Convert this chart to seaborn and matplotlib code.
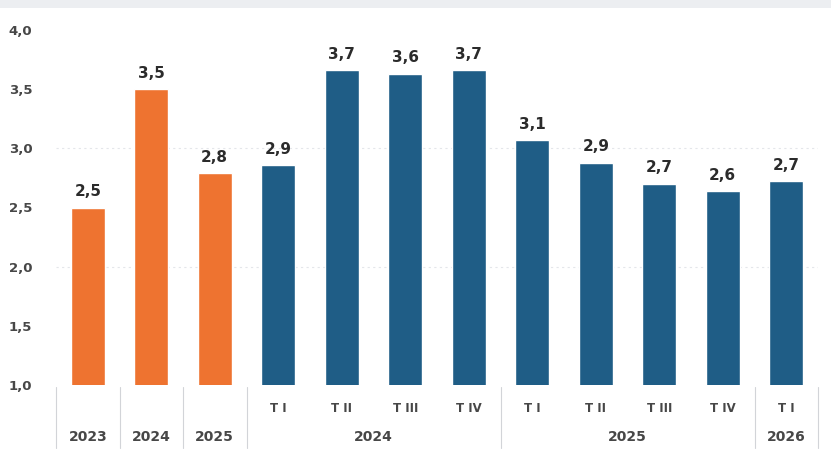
import matplotlib
matplotlib.use("Agg")
import matplotlib.pyplot as plt
from matplotlib.patches import Rectangle
import seaborn as sns
import pandas as pd

# Annual averages followed by quarterly figures
bar_keys = ["2023", "2024", "2025",
            "2024 T I", "2024 T II", "2024 T III", "2024 T IV",
            "2025 T I", "2025 T II", "2025 T III", "2025 T IV",
            "2026 T I"]
quarter_labels = ["", "", "", "T I", "T II", "T III", "T IV",
                  "T I", "T II", "T III", "T IV", "T I"]
values = [2.50, 3.50, 2.79, 2.86, 3.66, 3.63, 3.66,
          3.07, 2.88, 2.70, 2.64, 2.72]
kinds = ["annual"] * 3 + ["quarterly"] * 9

# Year row: (label, first bar index, last bar index)
year_groups = [("2023", 0, 0), ("2024", 1, 1), ("2025", 2, 2),
               ("2024", 3, 6), ("2025", 7, 10), ("2026", 11, 11)]

y_ticks = [1.0, 1.5, 2.0, 2.5, 3.0, 3.5, 4.0]

ORANGE = "#EE7330"
BLUE = "#1F5D86"
TEXT = "#2b2b2b"
AXIS_TEXT = "#474747"

df = pd.DataFrame({"key": bar_keys, "value": values, "kind": kinds})

sns.set_theme(style="white")
plt.rcParams["font.family"] = ["DejaVu Sans"]

fig = plt.figure(figsize=(8.31, 4.59), dpi=100)
fig.patches.append(Rectangle((0, 1 - 8 / 459), 1, 8 / 459, transform=fig.transFigure,
                             facecolor="#eceef1", edgecolor="none", zorder=0))
ax = fig.add_axes([56 / 831, 74 / 459, (818 - 56) / 831, 355 / 459])

sns.barplot(data=df, x="key", y="value", hue="kind", order=bar_keys,
            palette={"annual": ORANGE, "quarterly": BLUE},
            width=0.54, dodge=False, legend=False, ax=ax,
            saturation=1)

ax.set_ylim(1.0, 4.0)
ax.set_xlim(-0.5, len(bar_keys) - 0.5)
ax.set_yticks(y_ticks)
ax.set_yticklabels([f"{t:.1f}".replace(".", ",") for t in y_ticks],
                   fontsize=9.5, fontweight="bold", color=AXIS_TEXT)
ax.tick_params(axis="y", length=0, pad=17)
ax.set_xticks([])
ax.set_xlabel("")
ax.set_ylabel("")
for s in ax.spines.values():
    s.set_visible(False)

# faint dotted guides
for t in (2.0, 3.0):
    ax.axhline(t, color="#e4e6ea", lw=0.8, ls=(0, (2, 3)), zorder=0)

# value labels
for i, v in enumerate(values):
    ax.annotate(f"{v:.1f}".replace(".", ","), (i, v), xytext=(0, 6),
                textcoords="offset points", ha="center", va="bottom",
                fontsize=11, fontweight="bold", color=TEXT)

# category table below the axis
trans = ax.get_xaxis_transform()
for i, q in enumerate(quarter_labels):
    if q:
        ax.text(i, -0.065, q, transform=trans, ha="center", va="center",
                fontsize=8.5, fontweight="bold", color=AXIS_TEXT, clip_on=False)
for label, a, b in year_groups:
    ax.text((a + b) / 2, -0.146, label, transform=trans, ha="center", va="center",
            fontsize=10, fontweight="bold", color=AXIS_TEXT, clip_on=False)
    ax.plot([a - 0.5, a - 0.5], [-0.006, -0.177], transform=trans,
            color="#d2d4d8", lw=0.8, clip_on=False)
ax.plot([len(bar_keys) - 0.5] * 2, [-0.006, -0.177], transform=trans,
        color="#d2d4d8", lw=0.8, clip_on=False)

fig.savefig("out.png", dpi=100)
